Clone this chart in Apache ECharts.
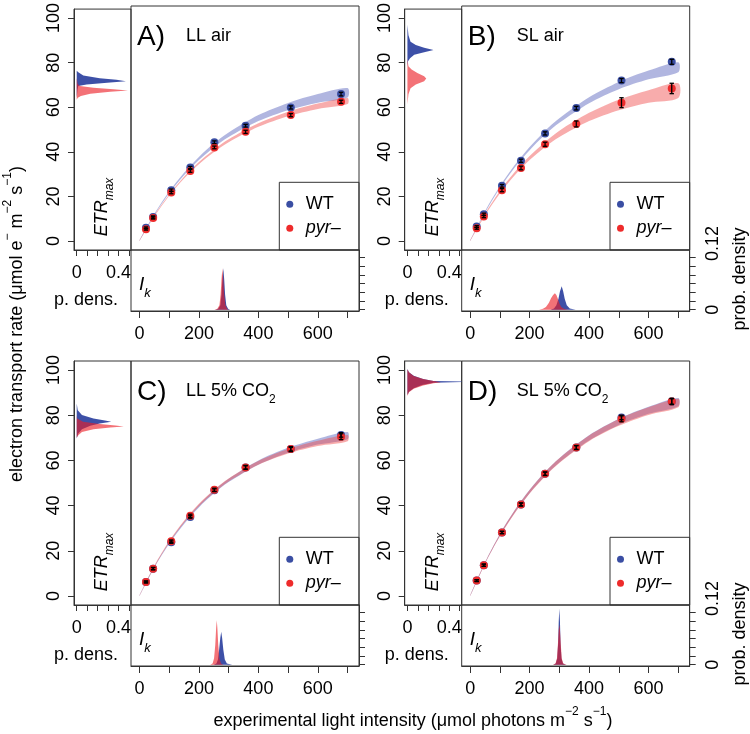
<!DOCTYPE html>
<html><head><meta charset="utf-8">
<script src="https://cdn.jsdelivr.net/npm/echarts@6/dist/echarts.min.js"></script>
<style>html,body{margin:0;padding:0;background:#fff}#c{width:750px;height:734px}</style>
</head><body><div id="c"></div>
<script>
// ---------- data ----------
const lightI = [22, 46, 107, 171, 252, 357, 509, 678];

const etrA_wt  = [5.8, 10.6, 22.5, 32.5, 43.7, 51.0, 59.1, 65.0];
const etrA_pyr = [5.2, 10.2, 21.4, 31.0, 41.4, 48.3, 55.7, 61.6];
const etrB_wt  = [6.4, 11.8, 24.4, 35.5, 47.6, 58.8, 71.0, 79.3];
const etrB_pyr = [5.6, 10.8, 22.5, 32.3, 42.8, 51.8, 61.2, 67.5];
const etrC_wt  = [6.2, 12.1, 23.8, 35.0, 46.8, 56.9, 65.0, 71.3];
const etrC_pyr = [6.2, 12.1, 24.2, 35.5, 47.0, 56.9, 65.0, 70.5];
const etrD_wt  = [6.8, 13.6, 28.1, 40.5, 54.1, 65.7, 79.0, 86.1];
const etrD_pyr = [6.8, 13.6, 28.1, 40.5, 54.1, 65.7, 78.4, 86.1];

const seA_wt  = [0.4, 0.5, 0.5, 0.5, 0.6, 0.6, 0.7, 0.8];
const seA_pyr = [0.4, 0.5, 0.5, 0.6, 0.6, 0.7, 0.7, 0.7];
const seB_wt  = [0.4, 0.5, 0.6, 0.7, 0.7, 0.8, 0.9, 1.1];
const seB_pyr = [0.4, 0.5, 0.7, 0.8, 0.9, 1.3, 2.2, 2.3];
const seC_wt  = [0.4, 0.5, 0.5, 0.6, 0.6, 0.7, 0.8, 1.0];
const seC_pyr = [0.4, 0.5, 0.6, 0.7, 0.7, 0.9, 1.1, 1.3];
const seD_wt  = [0.4, 0.5, 0.5, 0.6, 0.7, 0.8, 1.0, 1.2];
const seD_pyr = [0.4, 0.5, 0.5, 0.7, 0.8, 0.9, 1.3, 1.4];

// fitted-curve credible bands [lower, upper] at bandI
const bandI = [0, 50, 100, 150, 200, 250, 300, 400, 500, 600, 700];
const bandA_wt  = [[0,0.3],[11.4,12.0],[21.1,21.9],[29.1,30.2],[35.8,37.2],[41.4,43.1],[46.0,48.0],[53.1,55.7],[57.9,61.1],[61.2,65.0],[63.5,67.7]];
const bandA_pyr = [[0,0.3],[10.8,11.3],[20.0,20.55],[27.6,28.4],[34.0,34.9],[39.3,40.4],[43.7,45.0],[50.5,52.1],[55.2,57.2],[58.4,60.8],[60.6,63.3]];
const bandB_wt  = [[0,0.3],[12.5,13.2],[23.3,24.2],[32.5,33.6],[40.2,41.6],[46.8,48.5],[52.3,54.3],[61.0,63.6],[67.2,70.4],[71.6,75.4],[74.7,79.1]];
const bandB_pyr = [[0,0.3],[11.3,12.1],[21.0,22.1],[29.1,30.5],[35.8,37.6],[41.4,43.6],[46.0,48.8],[53.1,56.7],[57.9,62.5],[61.2,66.7],[63.3,69.8]];
const bandC_wt  = [[0,0.3],[12.5,13.1],[23.1,23.9],[31.9,32.9],[39.2,40.4],[45.3,46.7],[50.4,51.9],[58.1,60.0],[63.4,65.6],[67.0,69.6],[69.4,72.6]];
const bandC_pyr = [[0,0.3],[12.8,13.4],[23.6,24.3],[32.4,33.3],[39.7,40.8],[45.7,46.9],[50.7,52.0],[58.1,59.7],[63.1,65.0],[66.4,68.7],[68.5,71.3]];
const bandD_wt  = [[0,0.3],[14.3,14.9],[26.5,27.4],[36.8,38.0],[45.5,47.0],[52.9,54.6],[59.1,61.0],[68.8,71.1],[75.7,78.4],[80.6,83.7],[84.0,87.6]];
const bandD_pyr = [[0,0.3],[14.2,14.8],[26.4,27.3],[36.6,37.9],[45.3,46.9],[52.7,54.5],[58.9,60.9],[68.5,71.0],[75.3,78.3],[80.1,83.5],[83.5,87.3]];

// ETRmax posterior densities: [ETRmax, density]
const emA_wt  = [[64.4,0],[66,0.004],[68,0.008],[69.5,0.015],[70.2,0.095],[71.1,0.32],[71.7,0.47],[72.3,0.38],[73.0,0.22],[74.2,0.063],[75.7,0.015],[76.4,0]];
const emA_pyr = [[63.4,0],[64.2,0.01],[65.0,0.04],[66.0,0.13],[66.9,0.32],[67.5,0.49],[68.1,0.35],[68.7,0.16],[69.5,0.03],[70.5,0.008],[72,0.004],[73,0]];
const emB_wt  = [[78,0],[80.6,0.006],[82,0.025],[83.5,0.065],[84.7,0.16],[85.7,0.25],[86.7,0.16],[87.9,0.08],[89.4,0.03],[92.3,0.01],[97,0]];
const emB_pyr = [[61.3,0],[65.8,0.01],[68.5,0.03],[70.2,0.08],[71.7,0.16],[72.9,0.18],[73.9,0.16],[75.4,0.095],[76.9,0.04],[78.4,0.01],[80.6,0.003],[82,0]];
const emC_wt  = [[69.7,0],[71.9,0.015],[73.8,0.05],[75.3,0.13],[76.3,0.22],[77.1,0.33],[77.7,0.27],[78.6,0.16],[80.1,0.05],[82.2,0.01],[85.2,0]];
const emC_pyr = [[70.1,0],[71.1,0.015],[72.6,0.05],[73.8,0.16],[74.6,0.32],[75.0,0.45],[75.5,0.37],[76.1,0.22],[77.1,0.06],[78.6,0.005],[80,0]];
const emD_wt  = [[89,0],[90.4,0.015],[91.9,0.06],[93.4,0.14],[94.4,0.25],[94.75,0.62],[94.85,0.62],[95.2,0.25],[96.0,0.15],[97.5,0.06],[99.0,0.015],[100.5,0]];
const emD_pyr = [[88.5,0],[90.2,0.015],[91.7,0.06],[93.2,0.15],[94.1,0.25],[94.6,0.32],[95.1,0.25],[96.0,0.15],[97.4,0.06],[99,0.015],[100.3,0]];

// Ik posterior densities: [Ik, density]
const ikA_wt  = [[255,0],[265,0.002],[272,0.01],[276,0.035],[279,0.07],[282,0.095],[285,0.07],[288,0.035],[292,0.01],[298,0.002],[305,0]];
const ikA_pyr = [[252,0],[262,0.002],[269,0.01],[273,0.035],[276,0.07],[279,0.095],[282,0.07],[285,0.035],[289,0.01],[295,0.002],[300,0]];
const ikB_wt  = [[270,0],[282,0.003],[290,0.01],[297,0.025],[302,0.042],[308,0.054],[313,0.042],[318,0.025],[325,0.01],[335,0.003],[355,0]];
const ikB_pyr = [[232,0],[245,0.002],[255,0.006],[265,0.016],[272,0.026],[279,0.034],[285,0.0375],[290,0.034],[295,0.025],[300,0.015],[306,0.006],[315,0.002],[330,0]];
const ikC_wt  = [[250,0],[259,0.003],[264,0.012],[268,0.035],[272,0.062],[275,0.0755],[278,0.062],[282,0.035],[287,0.012],[294,0.003],[312,0]];
const ikC_pyr = [[238,0],[246,0.003],[251,0.015],[255,0.045],[258,0.085],[260,0.102],[262,0.085],[265,0.045],[269,0.015],[274,0.003],[282,0]];
const ikD_wt  = [[280,0],[288,0.003],[293,0.015],[296,0.05],[298,0.1],[300,0.129],[302,0.1],[304,0.05],[307,0.015],[312,0.003],[322,0]];
const ikD_pyr = [[278,0],[287,0.003],[292,0.015],[295,0.045],[298,0.08],[300,0.092],[302,0.08],[305,0.045],[308,0.015],[313,0.003],[325,0]];

// ticks / labels
const xTicks = [0, 100, 200, 300, 400, 500, 600, 700];
const xLabels = [0, 200, 400, 600];
const yTicks = [0, 20, 40, 60, 80, 100];
const densTicks = [0, 0.1, 0.2, 0.3, 0.4, 0.5];
const densLabels = [0, 0.4];
const probTicks = [0, 0.02, 0.04, 0.06, 0.08, 0.1, 0.12];
const probLabels = [0, 0.12];
const panelLetters = ['A)', 'B)', 'C)', 'D)'];
const panelTitles = ['LL air', 'SL air', 'LL 5% CO2', 'SL 5% CO2'];
const groupNames = ['WT', 'pyr–'];

// ---------- build ----------
const FF = '"Liberation Sans", Arial, Helvetica, sans-serif';
const AX = '#333';
const BLUE = '#3a4ea3', RED = '#ee2b2b';
const BAND_B = 'rgba(70,80,180,0.42)', BAND_R = 'rgba(240,70,70,0.45)';
const DEN_B = 'rgba(45,65,160,0.92)', DEN_R = 'rgba(236,28,36,0.62)';

const panels = [
  {col:0,row:0, w:etrA_wt,p:etrA_pyr, sw:seA_wt,sp:seA_pyr, bw:bandA_wt,bp:bandA_pyr, ew:emA_wt,ep:emA_pyr, iw:ikA_wt,ip:ikA_pyr},
  {col:1,row:0, w:etrB_wt,p:etrB_pyr, sw:seB_wt,sp:seB_pyr, bw:bandB_wt,bp:bandB_pyr, ew:emB_wt,ep:emB_pyr, iw:ikB_wt,ip:ikB_pyr},
  {col:0,row:1, w:etrC_wt,p:etrC_pyr, sw:seC_wt,sp:seC_pyr, bw:bandC_wt,bp:bandC_pyr, ew:emC_wt,ep:emC_pyr, iw:ikC_wt,ip:ikC_pyr},
  {col:1,row:1, w:etrD_wt,p:etrD_pyr, sw:seD_wt,sp:seD_pyr, bw:bandD_wt,bp:bandD_pyr, ew:emD_wt,ep:emD_pyr, iw:ikD_wt,ip:ikD_pyr}
];

const grid = [], xAxis = [], yAxis = [], series = [], legend = [], graphic = [];
const lab = (extra) => Object.assign({fontSize:18, fontFamily:FF, color:'#000'}, extra);
const line = {show:true, onZero:false, lineStyle:{color:AX, width:1}};

// generic filled polygon through the axes of grid `ax`
function polySeries(ax, xy, color, smooth, z) {
  series.push({type:'custom', xAxisIndex:ax, yAxisIndex:ax, silent:true, z:z, data: xy,
    renderItem: (params, api) => {
      if (params.dataIndex !== 0) return null;
      const cs = params.coordSys;
      return {type:'polygon', shape:{points: xy.map(q => api.coord(q)), smooth: smooth}, style:{fill:color},
        clipPath:{type:'rect', shape:{x:cs.x, y:cs.y, width:cs.width, height:cs.height}}};
    }});
}
function bandSeries(ax, band, color) {
  const up = bandI.map((x,i)=>[x, band[i][1]]);
  const lo = bandI.map((x,i)=>[x, band[i][0]]).reverse();
  polySeries(ax, up.concat(lo), color, 0.3, 1);
}
function errSeries(ax, vals, se) {
  series.push({type:'custom', xAxisIndex:ax, yAxisIndex:ax, silent:true, z:4,
    data: lightI.map((x,i)=>[x, vals[i]-se[i], vals[i]+se[i]]),
    renderItem: (params, api) => {
      const lo = api.coord([api.value(0), api.value(1)]);
      const hi = api.coord([api.value(0), api.value(2)]);
      const w = 2.2, st = {stroke:'#000', lineWidth:1.3};
      return {type:'group', children:[
        {type:'line', shape:{x1:lo[0], y1:lo[1], x2:hi[0], y2:hi[1]}, style:st},
        {type:'line', shape:{x1:lo[0]-w, y1:lo[1], x2:lo[0]+w, y2:lo[1]}, style:st},
        {type:'line', shape:{x1:hi[0]-w, y1:hi[1], x2:hi[0]+w, y2:hi[1]}, style:st}
      ]};
    }});
}
function densSeries(ax, pts, color, horizontal) {
  polySeries(ax, pts.map(p => horizontal ? [p[1], p[0]] : [p[0], p[1]]), color, 0, 2);
}

panels.forEach((P, k) => {
  const cx = P.col * 330.7, ry = P.row * 355;
  const gM = 3*k, gD = 3*k+1, gI = 3*k+2;
  const gbase = {show:true, borderColor:AX, borderWidth:1, backgroundColor:'transparent'};
  grid.push(Object.assign({left:131+cx, top:6+ry, width:228, height:244}, gbase));
  grid.push(Object.assign({left:74+cx, top:6+ry, width:57, height:244}, gbase));
  grid.push(Object.assign({left:131+cx, top:250+ry, width:228, height:61}, gbase));

  xAxis.push({gridIndex:gM, type:'value', min:-28.4, max:738.4, show:false});
  yAxis.push({gridIndex:gM, type:'value', min:-4, max:104, show:false});
  xAxis.push({gridIndex:gD, type:'value', min:-0.026, max:0.519, position:'bottom', axisLine:line,
    axisTick:{show:true, customValues:densTicks, length:6, lineStyle:{color:AX}},
    axisLabel:lab({customValues:densLabels, margin:14}), splitLine:{show:false}});
  yAxis.push({gridIndex:gD, type:'value', min:-4, max:104, position:'left', axisLine:line,
    axisTick:{show:true, customValues:yTicks, length:6, lineStyle:{color:AX}},
    axisLabel:lab({customValues:yTicks, rotate:90, margin:11}), splitLine:{show:false}});
  xAxis.push({gridIndex:gI, type:'value', min:-28.4, max:738.4, position:'bottom', axisLine:line,
    axisTick:{show:true, customValues:xTicks, length:7, lineStyle:{color:AX}},
    axisLabel:lab({customValues:xLabels, margin:14}), splitLine:{show:false}});
  yAxis.push({gridIndex:gI, type:'value', min:-0.003, max:0.137, position:'right', axisLine:line,
    axisTick:{show:true, customValues:probTicks, length:6, lineStyle:{color:AX}},
    axisLabel:lab({show:P.col===1, customValues:probLabels, rotate:90, margin:14,
      formatter: v => v === 0 ? '{b|0}' : '{a|' + v + '}',
      rich:{a:{fontSize:18, fontFamily:FF, color:'#000', padding:[0,0,0,28]}, b:{fontSize:18, fontFamily:FF, color:'#000'}}}),
    splitLine:{show:false}});

  bandSeries(gM, P.bw, BAND_B);
  bandSeries(gM, P.bp, BAND_R);
  series.push({type:'scatter', name:groupNames[0], xAxisIndex:gM, yAxisIndex:gM, symbolSize:8, z:3,
    itemStyle:{color:BLUE, opacity:1}, data: lightI.map((x,i)=>[x, P.w[i]])});
  series.push({type:'scatter', name:groupNames[1], xAxisIndex:gM, yAxisIndex:gM, symbolSize:8, z:3,
    itemStyle:{color:RED, opacity:1}, data: lightI.map((x,i)=>[x, P.p[i]])});
  errSeries(gM, P.w, P.sw);
  errSeries(gM, P.p, P.sp);
  densSeries(gD, P.ew, DEN_B, true);
  densSeries(gD, P.ep, DEN_R, true);
  densSeries(gI, P.iw, DEN_B, false);
  densSeries(gI, P.ip, DEN_R, false);

  graphic.push({type:'rect', z:-1, shape:{x:279.3+cx, y:182.3+ry, width:79.7, height:67.7},
    style:{fill:'#fff', stroke:AX, lineWidth:1}});
  legend.push({left:286.3+cx, top:195.3+ry, orient:'vertical', padding:0, itemGap:6, itemWidth:22, itemHeight:7,
    icon:'circle', selectedMode:false, data:groupNames,
    formatter: n => n === 'WT' ? '{n|WT}' : '{i|' + n + '}',
    textStyle:{fontSize:18, fontFamily:FF, color:'#000', lineHeight:18,
      rich:{n:{fontSize:18, fontFamily:FF, color:'#000', lineHeight:18},
            i:{fontSize:18, fontFamily:FF, color:'#000', lineHeight:18, fontStyle:'italic'}}}});

  graphic.push({type:'text', x:137+cx, y:37+ry, style:{text:panelLetters[k], fontSize:28, fontFamily:FF, fill:'#000', align:'left', verticalAlign:'middle'}});
  const t = panelTitles[k];
  const tRich = t.indexOf('CO2') >= 0 ? '{t|' + t.replace('CO2', 'CO') + '}{s|2}' : '{t|' + t + '}';
  graphic.push({type:'text', x:186+cx, y:37+ry, style:{text:tRich, align:'left', verticalAlign:'middle',
    rich:{t:{fontSize:18, fontFamily:FF, fill:'#000', lineHeight:20, verticalAlign:'top'},
          s:{fontSize:12, fontFamily:FF, fill:'#000', lineHeight:12, padding:[12,0,0,0], verticalAlign:'top'}}}});
  graphic.push({type:'text', x:103+cx, y:207+ry, rotation:Math.PI/2, style:{text:'{e|ETR}{s|max}', align:'center', verticalAlign:'middle',
    rich:{e:{fontSize:18, fontStyle:'italic', fontFamily:FF, fill:'#000', lineHeight:20, verticalAlign:'top'},
          s:{fontSize:12, fontStyle:'italic', fontFamily:FF, fill:'#000', lineHeight:12, padding:[11,0,0,0], verticalAlign:'top'}}}});
  graphic.push({type:'text', x:139+cx, y:286+ry, style:{text:'{e|I}{s|k}', align:'left', verticalAlign:'middle',
    rich:{e:{fontSize:19, fontStyle:'italic', fontFamily:FF, fill:'#000', lineHeight:22, verticalAlign:'top'},
          s:{fontSize:13, fontStyle:'italic', fontFamily:FF, fill:'#000', lineHeight:14, padding:[12,0,0,0], verticalAlign:'top'}}}});
  graphic.push({type:'text', x:86+cx, y:300+ry, style:{text:'p. dens.', fontSize:18, fontFamily:FF, fill:'#000', align:'center', verticalAlign:'middle'}});
  if (P.col === 1) {
    graphic.push({type:'text', x:740, y:279+ry, rotation:Math.PI/2, style:{text:'prob. density', fontSize:18, fontFamily:FF, fill:'#000', align:'center', verticalAlign:'middle'}});
  }
});

const supRich = {
  t:{fontSize:18, fontFamily:FF, fill:'#000', lineHeight:22, verticalAlign:'bottom'},
  u:{fontSize:12, fontFamily:FF, fill:'#000', lineHeight:12, padding:[0,0,12,0], verticalAlign:'bottom'}
};
graphic.push({type:'text', x:15, y:324, rotation:Math.PI/2, style:{
  text:'{t|electron transport rate (μmol e}{u|−}{t| m}{u|−2}{t| s}{u|−1}{t|)}', align:'center', verticalAlign:'middle', rich:supRich}});
graphic.push({type:'text', x:413, y:719, style:{
  text:'{t|experimental light intensity (μmol photons m}{u|−2}{t| s}{u|−1}{t|)}', align:'center', verticalAlign:'middle', rich:supRich}});

const chart = echarts.init(document.getElementById('c'), null, {renderer:'canvas'});
chart.setOption({animation:false, backgroundColor:'#fff', grid, xAxis, yAxis, series, legend, graphic});
</script></body></html>
